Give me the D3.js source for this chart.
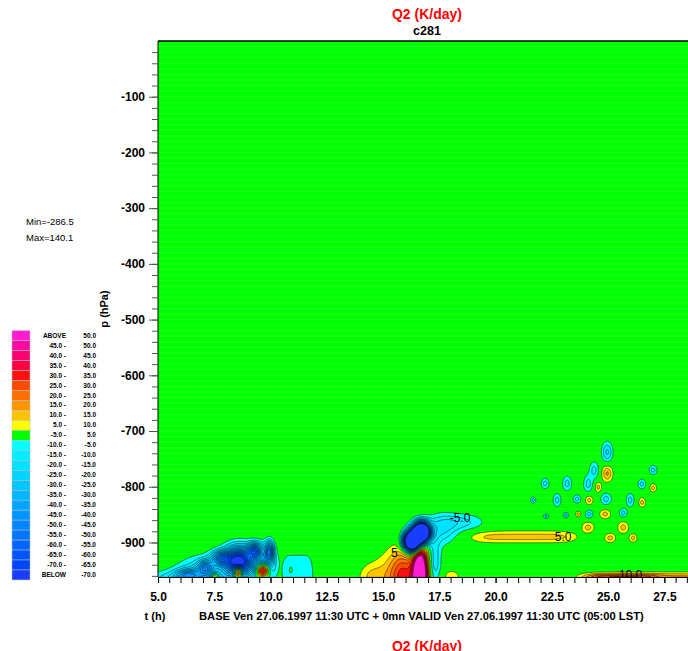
<!DOCTYPE html>
<html>
<head>
<meta charset="utf-8">
<script src="https://cdn.jsdelivr.net/npm/d3@7"></script>
<style>
  body { margin: 0; background: #fff; }
  svg { display: block; }
  text { font-family: "Liberation Sans", Arial, Helvetica, sans-serif; }
</style>
</head>
<body>
<svg id="chart" width="688" height="651"></svg>
<script>
// axis ticks
var xTicks = [5, 7.5, 10, 12.5, 15, 17.5, 20, 22.5, 25, 27.5];
var yTicks = [-100, -200, -300, -400, -500, -600, -700, -800, -900];

// contour thresholds (K/day), green band is -5..5
var posLevels = [5, 10, 15, 20, 25, 30, 35, 40, 45, 50];
var negLevels = [5, 10, 15, 20, 25, 30, 35, 40, 45, 50, 55, 60, 65, 70];   // applied to -Q2

// legend, top to bottom
var legendLow = ["ABOVE", "45.0 -", "40.0 -", "35.0 -", "30.0 -", "25.0 -", "20.0 -", "15.0 -", "10.0 -", "5.0 -",
  "-5.0 -", "-10.0 -", "-15.0 -", "-20.0 -", "-25.0 -", "-30.0 -", "-35.0 -", "-40.0 -", "-45.0 -", "-50.0 -",
  "-55.0 -", "-60.0 -", "-65.0 -", "-70.0 -", "BELOW"];
var legendHigh = ["50.0", "50.0", "45.0", "40.0", "35.0", "30.0", "25.0", "20.0", "15.0", "10.0",
  "5.0", "-5.0", "-10.0", "-15.0", "-20.0", "-25.0", "-30.0", "-35.0", "-40.0", "-45.0",
  "-50.0", "-55.0", "-60.0", "-65.0", "-70.0"];
var legendColors = ["#ff1ed2", "#ff0aa0", "#ff0070", "#ff0040", "#ff1010", "#ff4a00", "#ff6e00", "#ff9600", "#ffc400", "#ffff00",
  "#00ff00", "#00ffff", "#00eeff", "#00e2ff", "#00d4ff", "#00c6ff", "#00b6ff", "#00a6ff", "#0096ff", "#0086ff",
  "#0076ff", "#0066ff", "#0056ff", "#0046ff", "#1a3cff"];

// Q2 features: [t (h), p (hPa), amplitude, width in t, width in p, shape power in t]
var leftBlobs = [
  [5.8, -965, -12, 1.0, 10, 2],
  [6.3, -958, -22, 0.35, 7, 2],
  [7.0, -960, -20, 0.8, 22, 2],
  [7.1, -945, -30, 0.25, 9, 2],
  [7.8, -928, -35, 0.3, 9, 2],
  [8.6, -935, -80, 0.45, 18, 2],
  [9.3, -915, -45, 0.22, 10, 2],
  [9.95, -915, -40, 0.14, 12, 2],
  [9.8, -940, -30, 0.3, 20, 2],
  [9.67, -950, 60, 0.2, 9, 2],
  [8.56, -953, 70, 0.15, 7, 2],
  [7.53, -962, 30, 0.12, 5, 2],
  [11.22, -962, -9, 0.64, 36, 6],
  [10.9, -950, 6, 0.06, 5, 2]
];
var middleBlobs = [
  [16.3, -898, -160, 0.25, 12, 2],
  [16.7, -882, -160, 0.25, 12, 2],
  [17.6, -878, -14, 0.45, 18, 2],
  [18.4, -864, -12, 0.75, 11, 2],
  [17.3, -935, -14, 0.2, 30, 2],
  [16.65, -962, 90, 0.22, 36, 2],
  [15.9, -962, 22, 0.4, 35, 2],
  [15.6, -962, 12, 0.8, 32, 2],
  [14.5, -962, 8, 0.4, 15, 2],
  [18.05, -962, 8, 0.3, 10, 2]
];
var streakBlobs = [
  [21.25, -890, 12, 2.15, 8, 6],
  [27.0, -962, 16, 2.9, 6, 6],
  [25.6, -962, 15, 1.3, 3.5, 4]
];
var spotBlobs = [
  [24.96, -738, -16, 0.17, 13, 2],
  [24.96, -776, 16, 0.17, 10.5, 2],
  [24.38, -770, -12, 0.15, 11, 2],
  [24.11, -795, -12, 0.15, 11, 2],
  [27.0, -770, -12, 0.13, 6.5, 2],
  [22.2, -794, -12, 0.13, 7, 2],
  [23.18, -794, -12, 0.15, 10, 2],
  [24.56, -801, 12, 0.11, 7, 2],
  [26.5, -795, -12, 0.13, 6.5, 2],
  [27.0, -802, 12, 0.11, 5.5, 2],
  [21.67, -824, -12, 0.09, 4.2, 2],
  [22.73, -824, -12, 0.13, 9, 2],
  [23.62, -822, -12, 0.13, 5.5, 2],
  [24.16, -824, 12, 0.13, 6.3, 2],
  [24.91, -822, -12, 0.18, 8, 2],
  [25.98, -824, -12, 0.13, 9, 2],
  [26.51, -828, 12, 0.11, 6.3, 2],
  [22.24, -853, -12, 0.09, 3, 2],
  [23.13, -851, -12, 0.09, 3.6, 2],
  [23.67, -849, 12, 0.09, 3.6, 2],
  [24.16, -849, -12, 0.13, 5.5, 2],
  [24.87, -849, 12, 0.18, 6.3, 2],
  [25.67, -847, -12, 0.13, 6.3, 2],
  [24.11, -873, 12, 0.2, 7.2, 2],
  [25.67, -873, 12, 0.18, 8, 2],
  [25.09, -892, 12, 0.18, 6.3, 2],
  [26.11, -892, 12, 0.13, 5.5, 2]
];

// contour labels
var contourLabels = [
  [18.42, -856, "-5.0"],
  [23.0, -889, "5.0"],
  [15.5, -919, "5"],
  [26.0, -958, "10.0"]
];

var svg = d3.select("#chart"),
    margin = {top: 41, right: 0, bottom: 74, left: 158},
    width = +svg.attr("width") - margin.left - margin.right,
    height = +svg.attr("height") - margin.top - margin.bottom;

var x = d3.scaleLinear().domain([5, 28.55]).range([margin.left, margin.left + width]);
var y = d3.scaleLinear().domain([0, -962]).range([margin.top, margin.top + height]);

// titles
svg.append("text").attr("x", 427).attr("y", 19).attr("text-anchor", "middle")
    .attr("fill", "#ff0000").style("font-size", "14px").style("font-weight", "bold").text("Q2 (K/day)");
svg.append("text").attr("x", 427).attr("y", 35).attr("text-anchor", "middle")
    .style("font-size", "12.5px").style("font-weight", "bold").text("c281");
svg.append("text").attr("x", 427).attr("y", 651).attr("text-anchor", "middle")
    .attr("fill", "#ff0000").style("font-size", "14px").style("font-weight", "bold").text("Q2 (K/day)");

// plot background and model level stripes
svg.append("defs").append("clipPath").attr("id", "plotClip")
  .append("rect").attr("x", margin.left).attr("y", margin.top).attr("width", width).attr("height", height);

var plot = svg.append("g").attr("clip-path", "url(#plotClip)");
plot.append("rect").attr("x", margin.left).attr("y", margin.top)
    .attr("width", width).attr("height", height).attr("fill", "#00ff00");
plot.selectAll(".stripe").data(d3.range(-10, -962, -10)).enter().append("line")
    .attr("class", "stripe")
    .attr("x1", margin.left).attr("x2", margin.left + width)
    .attr("y1", function(d) { return y(d); }).attr("y2", function(d) { return y(d); })
    .attr("stroke", "#3dff3d").attr("stroke-width", 0.6);

// gridded field from the features
var blobs = leftBlobs.concat(middleBlobs, streakBlobs, spotBlobs);
var tMin = 5, dt = 0.04, nx = 591;
var pMin = -962, dp = 1, ny = 263;
var values = new Float64Array(nx * ny);
for (var j = 0; j < ny; j++) {
  var p = pMin + j * dp;
  for (var i = 0; i < nx; i++) {
    var t = tMin + i * dt, v = 0;
    for (var k = 0; k < blobs.length; k++) {
      var b = blobs[k];
      var u = (t - b[0]) / b[3];
      if (u > 6 || u < -6) continue;
      var w = (p - b[1]) / b[4];
      if (w > 6 || w < -6) continue;
      v += b[2] * Math.exp(-0.5 * (Math.pow(Math.abs(u), b[5]) + w * w));
    }
    values[j * nx + i] = v;
  }
}
var negValues = values.map(function(d) { return -d; });

var gridPath = d3.geoPath(d3.geoTransform({
  point: function(gx, gy) {
    this.stream.point(x(tMin + (gx - 0.5) * dt), y(pMin + (gy - 0.5) * dp));
  }
}));

var contours = d3.contours().size([nx, ny]);

plot.append("g").selectAll("path")
    .data(contours.thresholds(negLevels)(negValues))
  .enter().append("path")
    .attr("d", gridPath)
    .attr("fill", function(d) { return legendColors[10 + d.value / 5]; })
    .attr("stroke", "#000").attr("stroke-width", 0.5);

plot.append("g").selectAll("path")
    .data(contours.thresholds(posLevels)(values))
  .enter().append("path")
    .attr("d", gridPath)
    .attr("fill", function(d) { return legendColors[10 - d.value / 5]; })
    .attr("stroke", "#000").attr("stroke-width", 0.5);

plot.selectAll(".clabel").data(contourLabels).enter().append("text")
    .attr("class", "clabel")
    .attr("x", function(d) { return x(d[0]); })
    .attr("y", function(d) { return y(d[1]); })
    .attr("text-anchor", "middle").attr("dy", "0.35em")
    .style("font-size", "12px")
    .text(function(d) { return d[2]; });

// frame
svg.append("line").attr("x1", margin.left).attr("x2", margin.left + width)
    .attr("y1", margin.top).attr("y2", margin.top).attr("stroke", "#000").attr("stroke-width", 1.5);
svg.append("line").attr("x1", margin.left).attr("x2", margin.left)
    .attr("y1", margin.top).attr("y2", margin.top + height).attr("stroke", "#000").attr("stroke-width", 1);

// y axis
svg.append("g")
    .attr("transform", "translate(" + margin.left + ",0)")
    .call(d3.axisLeft(y).tickValues(d3.range(-20, -962, -20)).tickSize(6).tickFormat(""))
  .select(".domain").remove();
var yAxis = svg.append("g")
    .attr("transform", "translate(" + margin.left + ",0)")
    .call(d3.axisLeft(y).tickValues(yTicks).tickSize(9).tickPadding(4)
      .tickFormat(function(d) { return String(d); }));
yAxis.select(".domain").remove();
yAxis.selectAll("text").style("font-size", "12px").style("font-weight", "bold")
    .style("font-family", "'Liberation Sans', Arial, sans-serif");
svg.selectAll(".tick line").attr("stroke", "#555");

// x axis
svg.append("g")
    .attr("transform", "translate(0," + (margin.top + height) + ")")
    .call(d3.axisBottom(x).tickValues(d3.range(5, 28.6, 0.5)).tickSize(6).tickFormat(""))
  .select(".domain").attr("stroke", "#000");
var xAxis = svg.append("g")
    .attr("transform", "translate(0," + (margin.top + height) + ")")
    .call(d3.axisBottom(x).tickValues(xTicks).tickSize(6).tickPadding(9)
      .tickFormat(function(d) { return d.toFixed(1); }));
xAxis.select(".domain").remove();
xAxis.selectAll("text").style("font-size", "12px").style("font-weight", "bold")
    .style("font-family", "'Liberation Sans', Arial, sans-serif");

svg.append("text").attr("x", 155).attr("y", 620).attr("text-anchor", "middle")
    .style("font-size", "11px").style("font-weight", "bold").text("t (h)");
svg.append("text").attr("x", 199).attr("y", 620)
    .style("font-size", "11.2px").style("font-weight", "bold")
    .text("BASE Ven 27.06.1997 11:30 UTC + 0mn VALID Ven 27.06.1997 11:30 UTC (05:00 LST)");
svg.append("text").attr("transform", "translate(108,309) rotate(-90)").attr("text-anchor", "middle")
    .style("font-size", "11px").style("font-weight", "bold").text("p (hPa)");

// min / max
svg.append("text").attr("x", 26).attr("y", 225).style("font-size", "9.5px").text("Min=-286.5");
svg.append("text").attr("x", 26).attr("y", 241).style("font-size", "9.5px").text("Max=140.1");

// legend
var legend = svg.append("g").selectAll("g").data(legendColors).enter().append("g")
    .attr("transform", function(d, i) { return "translate(0," + (330.7 + i * 9.97) + ")"; });
legend.append("rect").attr("x", 12).attr("width", 18).attr("height", 9.97)
    .attr("fill", function(d) { return d; }).attr("stroke", "#bbb").attr("stroke-width", 0.5);
legend.append("text").attr("x", 66).attr("y", 7)
    .attr("text-anchor", "end").style("font-size", "6.5px").style("font-weight", "bold")
    .text(function(d, i) { return legendLow[i]; });
legend.append("text").attr("x", 96).attr("y", 7)
    .attr("text-anchor", "end").style("font-size", "6.5px").style("font-weight", "bold")
    .text(function(d, i) { return legendHigh[i]; });
</script>
</body>
</html>
